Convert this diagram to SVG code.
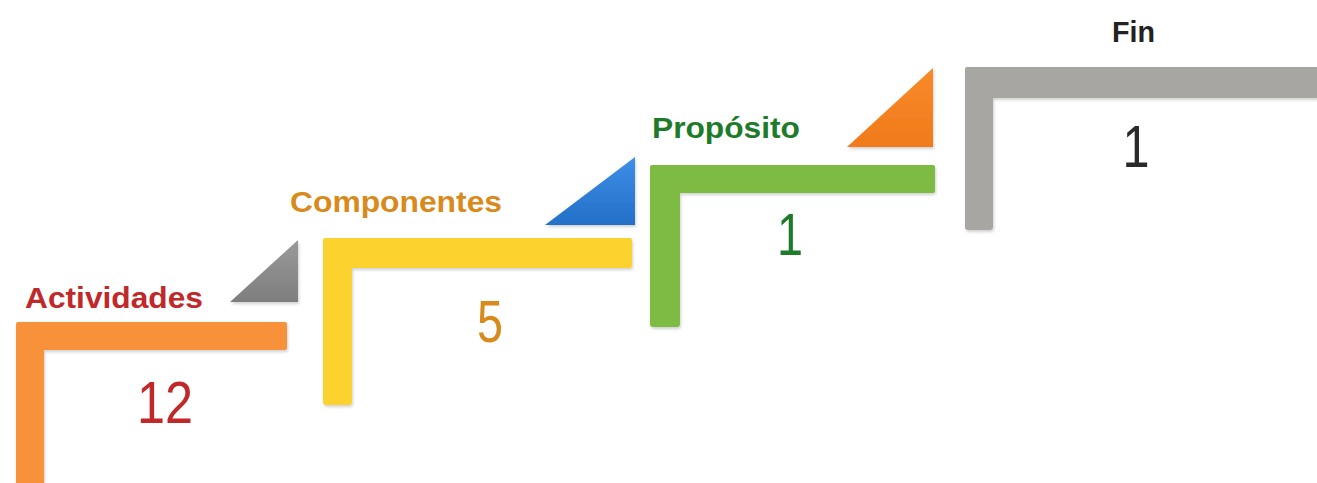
<svg xmlns="http://www.w3.org/2000/svg" width="1317" height="483" viewBox="0 0 1317 483">
  <defs>
    <filter id="sh" x="-5%" y="-5%" width="115%" height="115%">
      <feDropShadow dx="1" dy="2" stdDeviation="1.5" flood-color="#000" flood-opacity="0.18"/>
    </filter>
    <linearGradient id="gGray" x1="0" y1="0" x2="0" y2="1">
      <stop offset="0" stop-color="#9a9a9a"/>
      <stop offset="1" stop-color="#7e7e7e"/>
    </linearGradient>
    <linearGradient id="gBlue" x1="0" y1="0" x2="0" y2="1">
      <stop offset="0" stop-color="#3d8ee6"/>
      <stop offset="1" stop-color="#2470c8"/>
    </linearGradient>
    <linearGradient id="gOrange" x1="0" y1="0" x2="0" y2="1">
      <stop offset="0" stop-color="#f88a2a"/>
      <stop offset="1" stop-color="#f07a1a"/>
    </linearGradient>
  </defs>
  <style>
    .lbl { font-family: "Liberation Sans", Arial, sans-serif; font-weight: bold; font-size: 29px; }
    .num { font-family: "Liberation Sans Narrow", "Liberation Sans", sans-serif; font-size: 59px; text-anchor: middle; }
    .bar { filter: url(#sh); }
  </style>
  <rect width="1317" height="483" fill="#ffffff"/>

  <g id="step-actividades">
    <path class="bar" d="M18,322 H285 Q287,322 287,324 V348 Q287,350 285,350 H44 V483 H16 V324 Q16,322 18,322 Z" fill="#f7923a"/>
    <text class="lbl" x="25" y="308" fill="#c0282a" textLength="178" lengthAdjust="spacingAndGlyphs">Actividades</text>
    <text class="num" x="165" y="423" fill="#c0282a" textLength="56" lengthAdjust="spacingAndGlyphs">12</text>
  </g>
  <g id="tri-gray">
    <path class="bar" d="M298,240 L298,302 L230,302 Z" fill="url(#gGray)"/>
  </g>

  <g id="step-componentes">
    <path class="bar" d="M325,238 H630 Q632,238 632,240 V266 Q632,268 630,268 H352 V402 Q352,405 349,405 H326 Q323,405 323,402 V240 Q323,238 325,238 Z" fill="#fbd22e"/>
    <text class="lbl" x="290" y="212" fill="#d98a1c" textLength="212" lengthAdjust="spacingAndGlyphs">Componentes</text>
    <text class="num" x="490" y="342" fill="#d98a1c" textLength="26" lengthAdjust="spacingAndGlyphs">5</text>
  </g>
  <g id="tri-blue">
    <path class="bar" d="M635,157 L635,225 L545,225 Z" fill="url(#gBlue)"/>
  </g>

  <g id="step-proposito">
    <path class="bar" d="M652,165 H933 Q935,165 935,167 V191 Q935,193 933,193 H680 V324 Q680,327 677,327 H653 Q650,327 650,324 V167 Q650,165 652,165 Z" fill="#7dbb42"/>
    <text class="lbl" x="652" y="138" fill="#1e7b2a" textLength="148" lengthAdjust="spacingAndGlyphs">Propósito</text>
    <text class="num" x="790" y="255" fill="#1e7b2a" textLength="26" lengthAdjust="spacingAndGlyphs">1</text>
  </g>
  <g id="tri-orange">
    <path class="bar" d="M933,68 L933,147 L847,147 Z" fill="url(#gOrange)"/>
  </g>

  <g id="step-fin">
    <path class="bar" d="M967,67 H1317 V98 H993 V227 Q993,230 990,230 H968 Q965,230 965,227 V69 Q965,67 967,67 Z" fill="#a8a6a3"/>
    <text class="lbl" x="1112" y="42" fill="#222222" textLength="43" lengthAdjust="spacingAndGlyphs">Fin</text>
    <text class="num" x="1136" y="167" fill="#2a2a2a" textLength="27" lengthAdjust="spacingAndGlyphs">1</text>
  </g>

  <g id="connectors"></g>
</svg>
